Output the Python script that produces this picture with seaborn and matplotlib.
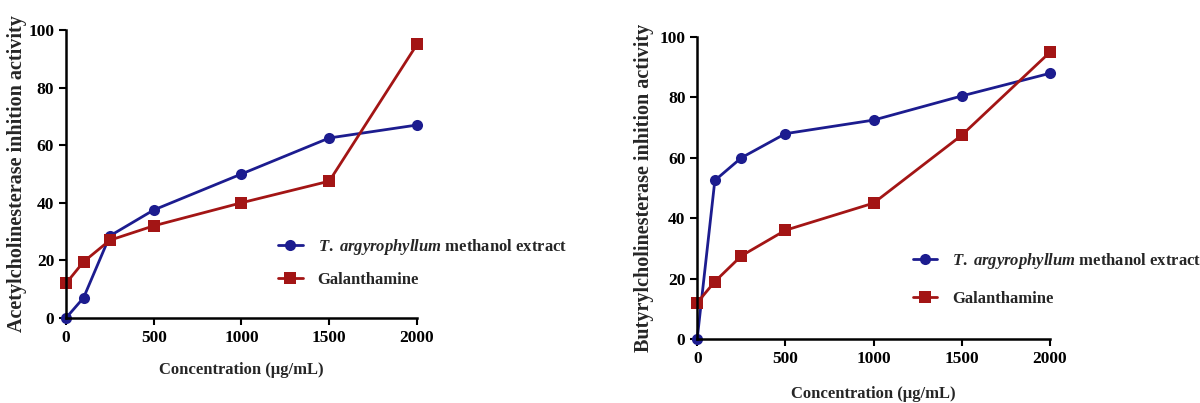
import matplotlib
matplotlib.use("Agg")
import matplotlib.pyplot as plt
import seaborn as sns
import pandas as pd

conc = [0, 100, 250, 500, 1000, 1500, 2000]
ache_extract = [0, 7, 28.5, 37.5, 50, 62.5, 67]
ache_galan = [12, 19.5, 27, 32, 40, 47.5, 95]
bche_extract = [0, 52.5, 60, 68, 72.5, 80.5, 88]
bche_galan = [12, 19, 27.5, 36, 45, 67.5, 95]
series_names = [r"$\mathit{T.}$ $\mathit{argyrophyllum}$ methanol extract", "Galanthamine"]
xticks = [0, 500, 1000, 1500, 2000]
yticks = [0, 20, 40, 60, 80, 100]

sns.set_style("ticks")
plt.rcParams['font.family'] = ['Liberation Serif', 'DejaVu Serif']
plt.rcParams['font.weight'] = 'bold'
plt.rcParams['mathtext.fontset'] = 'custom'
plt.rcParams['mathtext.it'] = 'Liberation Serif:italic:bold'
plt.rcParams['mathtext.rm'] = 'Liberation Serif:bold'

blue = "#1c1c8f"
red = "#a31515"

fig = plt.figure(figsize=(12, 4.03), dpi=100)
ax1 = fig.add_axes([0.055, 0.211, 0.2925, 0.7146])
ax2 = fig.add_axes([0.581, 0.159, 0.294, 0.749])

def draw(ax, ext, gal, ylabel, legend_anchor, xlabel_pad, lspace, ylabel_pad):
    df = pd.DataFrame({"conc": conc * 2, "val": ext + gal,
                       "series": [series_names[0]] * len(conc) + [series_names[1]] * len(conc)})
    sns.lineplot(data=df, x="conc", y="val", hue="series", style="series",
                 palette=[blue, red], markers=["o", "s"], dashes=False,
                 markersize=8, linewidth=2, markeredgewidth=0, ax=ax, clip_on=False)
    ax.set_xlim(0, 2000)
    ax.set_ylim(0, 100)
    ax.set_xticks(xticks)
    ax.set_yticks(yticks)
    for s in ["top", "right"]:
        ax.spines[s].set_visible(False)
    for s in ["left", "bottom"]:
        ax.spines[s].set_linewidth(1.8)
        ax.spines[s].set_color("black")
    ax.tick_params(width=1.5, length=5, labelsize=12.5, colors="black")
    for lab in ax.get_xticklabels() + ax.get_yticklabels():
        lab.set_fontweight("bold")
    ax.set_xlabel("Concentration (μg/mL)", fontsize=12, fontweight="bold", labelpad=xlabel_pad)
    ax.set_ylabel(ylabel, fontsize=14.5, fontweight="bold", labelpad=ylabel_pad)
    h, l = ax.get_legend_handles_labels()
    ax.legend(h, l, loc="upper left", bbox_to_anchor=legend_anchor,
              bbox_transform=fig.transFigure, frameon=False,
              prop={"family": "Liberation Serif", "weight": "bold", "size": 12},
              handlelength=1.45, handletextpad=0.9, labelspacing=lspace)

draw(ax1, ache_extract, ache_galan, "Acetylcholinesterase inhition activity", (0.2195, 0.45), 12, 0.9, 1)
draw(ax2, bche_extract, bche_galan, "Butyrylcholinesterase inhition activity", (0.748, 0.415), 14, 1.2, 4)

fig.savefig("out.png", dpi=100)
